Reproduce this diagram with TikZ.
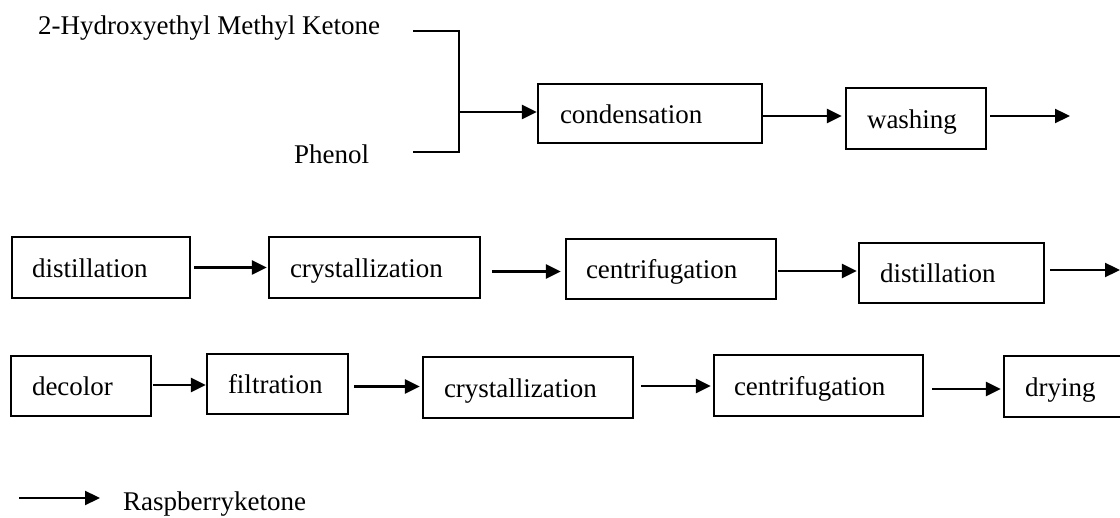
\documentclass[tikz,border=0pt]{standalone}
\usepackage{fontspec}
\setmainfont{Liberation Serif}
\usetikzlibrary{arrows.meta}
\begin{document}
\begin{tikzpicture}[x=1pt,y=-1pt,
  every node/.style={font=\fontsize{27pt}{32pt}\selectfont},
  txt/.style={anchor=base west, inner sep=0pt},
  proc/.style n args={3}{draw, line width=2.3pt, inner ysep=0pt, text height=20pt, text depth=0pt,
     align=left, minimum height=#1, text width=#2, inner xsep=#3},
  conn/.style={line width=2.3pt},
  arr/.style={line width=2.3pt, -{Triangle[length=15pt,width=14pt]}}]
\useasboundingbox (0,0) rectangle (1120,518);

% inputs
\node[txt] (ket) at (38,35) {2-Hydroxyethyl Methyl Ketone};
\node[txt] (phe) at (294,164) {Phenol};
\coordinate (ka) at (413,31);
\coordinate (pa) at (413,152);
\coordinate (jn) at (459,112);

% row 1
\node[proc={59pt}{180pt}{22pt}] (cond) at (650,113.5) {condensation};
\node[proc={61pt}{98pt}{21pt}] (wash) at (916,118.5) {washing};
\coordinate (out1) at (1070,116);

% row 2
\node[proc={61pt}{138pt}{20pt}] (dist1) at (101,267.5) {distillation};
\node[proc={61pt}{169pt}{21pt}] (cryst1) at (374.5,267.5) {crystallization};
\node[proc={60pt}{170pt}{20pt}] (cent1) at (671,269) {centrifugation};
\node[proc={60pt}{143pt}{21pt}] (dist2) at (951.5,273) {distillation};
\coordinate (out2) at (1120,270);

% row 3
\node[proc={60pt}{98pt}{21pt}] (dec) at (81,386) {decolor};
\node[proc={60pt}{99pt}{21pt}] (filt) at (277.5,384) {filtration};
\node[proc={61pt}{168pt}{21pt}] (cryst2) at (528,387.5) {crystallization};
\node[proc={61pt}{169pt}{20pt}] (cent2) at (818.5,385.5) {centrifugation};
\node[proc={61pt}{76pt}{21pt}] (dry) at (1063,386.5) {drying};

% legend
\coordinate (lg1) at (19,498);
\coordinate (lg2) at (100,498);
\node[txt] (rk) at (123,511) {Raspberryketone};

% connectors
\draw[conn] (ka) -| (jn) |- (pa);
\draw[arr] (jn) -- (jn -| cond.west);
\draw[arr] ([yshift=-2.5pt]cond.east) -- ([xshift=-3pt,yshift=2.5pt]wash.west);
\draw[arr] ([xshift=3pt,yshift=2.5pt]wash.east) -- (out1);

\draw[arr] ([xshift=3pt]dist1.east) -- ([xshift=-1pt]cryst1.west);
\draw[arr] ([xshift=11pt,yshift=-4pt]cryst1.east) -- ([xshift=-4pt,yshift=-2.5pt]cent1.west);
\draw[arr] ([xshift=1pt,yshift=-2pt]cent1.east) -- ([xshift=-1pt,yshift=2pt]dist2.west);
\draw[arr] ([xshift=5pt,yshift=3pt]dist2.east) -- (out2);

\draw[arr] ([xshift=1pt,yshift=1pt]dec.east) -- ([yshift=-1pt]filt.west);
\draw[arr] ([xshift=5pt,yshift=-2.5pt]filt.east) -- ([xshift=-2pt,yshift=1pt]cryst2.west);
\draw[arr] ([xshift=7pt,yshift=1.5pt]cryst2.east) -- ([xshift=-2pt,yshift=-0.5pt]cent2.west);
\draw[arr] ([xshift=8pt,yshift=-3.5pt]cent2.east) -- ([xshift=-2pt,yshift=-2.5pt]dry.west);

\draw[arr] (lg1) -- (lg2);
\end{tikzpicture}
\end{document}
